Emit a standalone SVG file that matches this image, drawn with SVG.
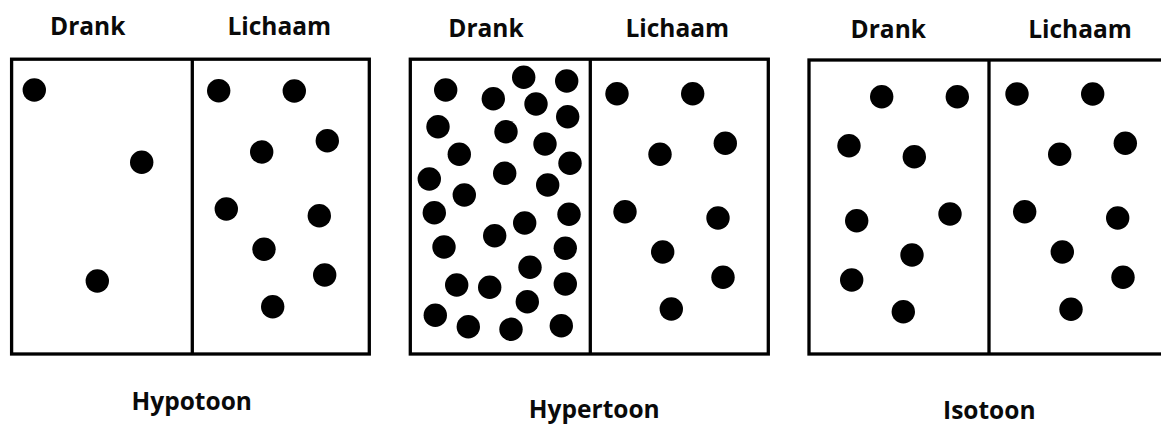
<svg xmlns="http://www.w3.org/2000/svg" width="1161" height="425" viewBox="0 0 1161 425">
<style>
.box{fill:none;stroke:#000;stroke-width:3.3}
.div{stroke:#000;stroke-width:3.3}
.d{fill:#000}
.t{font-family:"Open Sans","Liberation Sans",sans-serif;font-weight:bold;font-size:24.5px;text-anchor:middle;fill:#0a0a0a}
</style>
<rect width="1161" height="425" fill="#fff"/>
<g id="hypotoon">
<text class="t" x="87.7" y="35">Drank</text>
<text class="t" x="279.3" y="35">Lichaam</text>
<rect class="box" x="11.6" y="59.2" width="357.7" height="294.8"/>
<line class="div" x1="192.3" y1="59" x2="192.3" y2="354"/>
<g>
<circle class="d" cx="34.3" cy="90" r="11.7"/>
<circle class="d" cx="141.7" cy="162.3" r="11.7"/>
<circle class="d" cx="97.3" cy="281" r="11.7"/>
<circle class="d" cx="218.7" cy="90.7" r="11.7"/>
<circle class="d" cx="294.3" cy="91" r="11.7"/>
<circle class="d" cx="327.3" cy="140.7" r="11.7"/>
<circle class="d" cx="261.7" cy="152" r="11.7"/>
<circle class="d" cx="226.3" cy="209" r="11.7"/>
<circle class="d" cx="319.3" cy="215.7" r="11.7"/>
<circle class="d" cx="264" cy="249.3" r="11.7"/>
<circle class="d" cx="324.7" cy="275" r="11.7"/>
<circle class="d" cx="272.7" cy="306.7" r="11.7"/>
</g>
<text class="t" x="191.7" y="409.5">Hypotoon</text>
</g>
<g id="hypertoon">
<text class="t" x="486" y="37">Drank</text>
<text class="t" x="677.3" y="37">Lichaam</text>
<rect class="box" x="410.3" y="59.2" width="358" height="294.8"/>
<line class="div" x1="590.3" y1="59" x2="590.3" y2="354"/>
<g>
<circle class="d" cx="445.7" cy="90" r="11.7"/>
<circle class="d" cx="493.3" cy="98.7" r="11.7"/>
<circle class="d" cx="523.7" cy="77.3" r="11.7"/>
<circle class="d" cx="566.7" cy="81" r="11.7"/>
<circle class="d" cx="536" cy="104" r="11.7"/>
<circle class="d" cx="567.7" cy="116.7" r="11.7"/>
<circle class="d" cx="438" cy="126.7" r="11.7"/>
<circle class="d" cx="506" cy="131.7" r="11.7"/>
<circle class="d" cx="545" cy="144" r="11.7"/>
<circle class="d" cx="459.3" cy="154.3" r="11.7"/>
<circle class="d" cx="570" cy="163.3" r="11.7"/>
<circle class="d" cx="429.3" cy="179" r="11.7"/>
<circle class="d" cx="504.7" cy="173.3" r="11.7"/>
<circle class="d" cx="547.7" cy="185" r="11.7"/>
<circle class="d" cx="464.3" cy="195" r="11.7"/>
<circle class="d" cx="434.3" cy="212.7" r="11.7"/>
<circle class="d" cx="569" cy="214.3" r="11.7"/>
<circle class="d" cx="524.7" cy="223" r="11.7"/>
<circle class="d" cx="494.7" cy="235.7" r="11.7"/>
<circle class="d" cx="444" cy="247" r="11.7"/>
<circle class="d" cx="565.3" cy="248.3" r="11.7"/>
<circle class="d" cx="530" cy="267.3" r="11.7"/>
<circle class="d" cx="456.7" cy="285" r="11.7"/>
<circle class="d" cx="489.7" cy="287.3" r="11.7"/>
<circle class="d" cx="565.3" cy="284" r="11.7"/>
<circle class="d" cx="527.3" cy="301.7" r="11.7"/>
<circle class="d" cx="435.3" cy="315.3" r="11.7"/>
<circle class="d" cx="468.3" cy="326.7" r="11.7"/>
<circle class="d" cx="511" cy="329.3" r="11.7"/>
<circle class="d" cx="561.3" cy="325.7" r="11.7"/>
<circle class="d" cx="617" cy="93.7" r="11.7"/>
<circle class="d" cx="692.7" cy="93.7" r="11.7"/>
<circle class="d" cx="725.3" cy="143.3" r="11.7"/>
<circle class="d" cx="660" cy="154.3" r="11.7"/>
<circle class="d" cx="625" cy="211.7" r="11.7"/>
<circle class="d" cx="718" cy="218" r="11.7"/>
<circle class="d" cx="662.7" cy="252" r="11.7"/>
<circle class="d" cx="723" cy="277.3" r="11.7"/>
<circle class="d" cx="671.3" cy="309" r="11.7"/>
</g>
<text class="t" x="594.3" y="418">Hypertoon</text>
</g>
<g id="isotoon">
<text class="t" x="888.3" y="37.5">Drank</text>
<text class="t" x="1080" y="37.5">Lichaam</text>
<rect class="box" x="809" y="60" width="370" height="294"/>
<line class="div" x1="989" y1="60" x2="989" y2="354"/>
<g>
<circle class="d" cx="881.7" cy="96.7" r="11.7"/>
<circle class="d" cx="957.3" cy="96.7" r="11.7"/>
<circle class="d" cx="849" cy="145.7" r="11.7"/>
<circle class="d" cx="914.3" cy="156.7" r="11.7"/>
<circle class="d" cx="856.7" cy="220.7" r="11.7"/>
<circle class="d" cx="950" cy="214" r="11.7"/>
<circle class="d" cx="912" cy="255" r="11.7"/>
<circle class="d" cx="851.7" cy="280" r="11.7"/>
<circle class="d" cx="903.3" cy="311.7" r="11.7"/>
<circle class="d" cx="1017" cy="94" r="11.7"/>
<circle class="d" cx="1092.7" cy="94" r="11.7"/>
<circle class="d" cx="1125.3" cy="143.3" r="11.7"/>
<circle class="d" cx="1059.7" cy="154.3" r="11.7"/>
<circle class="d" cx="1024.7" cy="211.7" r="11.7"/>
<circle class="d" cx="1117.7" cy="218" r="11.7"/>
<circle class="d" cx="1062.3" cy="252" r="11.7"/>
<circle class="d" cx="1123" cy="277.3" r="11.7"/>
<circle class="d" cx="1071" cy="309.3" r="11.7"/>
</g>
<text class="t" x="989.3" y="419">Isotoon</text>
</g>
</svg>
